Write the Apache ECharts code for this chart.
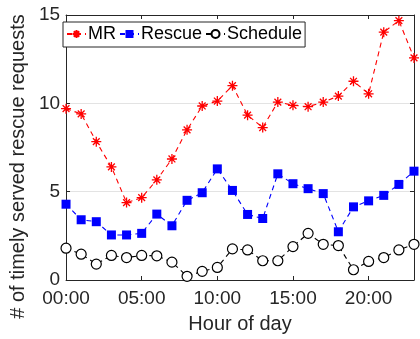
<!DOCTYPE html>
<html>
<head>
<meta charset="utf-8">
<script src="https://cdn.jsdelivr.net/npm/echarts@6/dist/echarts.min.js"></script>
<style>
html,body{margin:0;padding:0;background:#fff;}
#c{width:420px;height:339px;}
</style>
</head>
<body>
<div id="c"></div>
<script>
var hours = [0,1,2,3,4,5,6,7,8,9,10,11,12,13,14,15,16,17,18,19,20,21,22,23];
var mrValues = [9.7,9.4,7.83,6.4,4.38,4.66,5.67,6.85,8.5,9.85,10.13,11.0,9.33,8.63,10.07,9.89,9.81,10.07,10.41,11.25,10.54,14.03,14.68,12.57];
var rescueValues = [4.29,3.41,3.30,2.55,2.55,2.64,3.73,3.07,4.51,4.94,6.29,5.07,3.71,3.48,6.01,5.45,5.17,4.89,2.73,4.14,4.48,4.79,5.41,6.16];
var scheduleValues = [1.80,1.46,0.90,1.39,1.27,1.39,1.37,1.01,0.21,0.49,0.71,1.76,1.70,1.09,1.09,1.89,2.64,2.02,1.95,0.58,1.05,1.27,1.70,2.02];
var xTickValues = [0,5,10,15,20];
var xTickLabels = ['00:00','05:00','10:00','15:00','20:00'];
var seriesNames = ['MR','Rescue','Schedule'];
var xTitle = 'Hour of day';
var yTitle = '# of timely served rescue requests';

var FONT = '"Liberation Sans", Arial, Helvetica, sans-serif';
var AX = '#262626';

function pairs(vals){ return hours.map(function(h,i){ return [h, vals[i]]; }); }

var chart = echarts.init(document.getElementById('c'), null, {renderer:'canvas'});
var asterisk = 'path://M0,5L10,5M5,0L5,10M1.6,1.6L8.4,8.4M8.4,1.6L1.6,8.4';

var baseX = {
  type:'value', min:0, max:23, interval:5,
  axisLine:{show:true, onZero:false, lineStyle:{color:AX, width:1}},
  axisTick:{show:true, inside:true, length:4, lineStyle:{color:AX}},
  splitLine:{show:false}
};
var baseY = {
  type:'value', min:0, max:15, interval:5,
  axisLine:{show:true, onZero:false, lineStyle:{color:AX, width:1}},
  axisTick:{show:true, inside:true, length:4, lineStyle:{color:AX}}
};

chart.setOption({
  animation:false,
  backgroundColor:'#fff',
  grid:{left:57, right:6, top:15, bottom:57, containLabel:false},
  legend:{
    left:63, top:22, orient:'horizontal',
    data:seriesNames,
    backgroundColor:'#fff', borderColor:AX, borderWidth:1, borderRadius:0,
    padding:[3,3,4,3], itemGap:3, itemWidth:19, itemHeight:10,
    textStyle:{fontFamily:FONT, fontSize:18, color:'#000', padding:[0,0,0,-3]}
  },
  xAxis:[
    Object.assign({}, baseX, {
      position:'bottom',
      axisLabel:{show:true, margin:9, fontFamily:FONT, fontSize:19, color:AX,
        showMaxLabel:false,
        formatter:function(v){ var i = xTickValues.indexOf(v); return i>=0 ? xTickLabels[i] : ''; }},
      name:xTitle, nameLocation:'middle', nameGap:34,
      nameTextStyle:{fontFamily:FONT, fontSize:20, color:AX}
    }),
    Object.assign({}, baseX, {position:'top', axisLabel:{show:false}})
  ],
  yAxis:[
    Object.assign({}, baseY, {
      position:'left',
      axisLabel:{show:true, margin:6, fontFamily:FONT, fontSize:19, color:AX},
      splitLine:{show:true, lineStyle:{color:'#e3e3e3', width:1}},
      name:yTitle, nameLocation:'middle', nameGap:29,
      nameTextStyle:{fontFamily:FONT, fontSize:20, color:AX, padding:[0,38,0,0]}
    }),
    Object.assign({}, baseY, {position:'right', axisLabel:{show:false}, splitLine:{show:false}})
  ],
  series:[
    {
      name:seriesNames[0], type:'line', data:pairs(mrValues),
      symbol:asterisk, symbolSize:10, symbolKeepAspect:true,
      lineStyle:{color:'#ff0000', width:1.1, type:[5,4]},
      itemStyle:{color:'#ff0000', borderColor:'#ff0000', borderWidth:1.3},
      emphasis:{disabled:true}
    },
    {
      name:seriesNames[1], type:'line', data:pairs(rescueValues),
      symbol:'rect', symbolSize:9,
      lineStyle:{color:'#0000ff', width:1.1, type:[5,4]},
      itemStyle:{color:'#0000ff'},
      emphasis:{disabled:true}
    },
    {
      name:seriesNames[2], type:'line', data:pairs(scheduleValues),
      symbol:'circle', symbolSize:10,
      lineStyle:{color:'#000000', width:1.1, type:[5,4]},
      itemStyle:{color:'#ffffff', borderColor:'#000000', borderWidth:1.2},
      emphasis:{disabled:true}
    }
  ]
});
</script>
</body>
</html>
